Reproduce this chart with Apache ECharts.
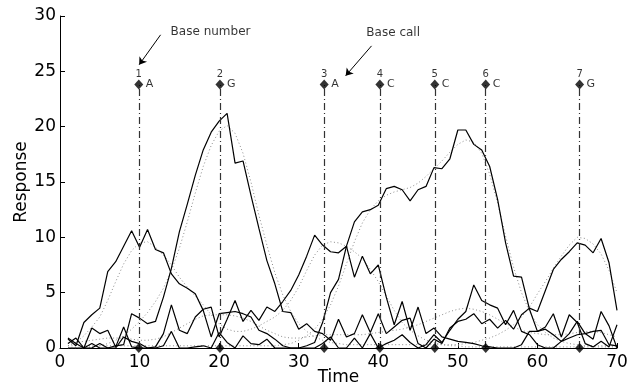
<!DOCTYPE html>
<html><head><meta charset="utf-8">
<script src="https://cdn.jsdelivr.net/npm/echarts@6/dist/echarts.min.js"></script>
<style>html,body{margin:0;padding:0;background:#fff}#c{width:629px;height:386px}</style>
</head><body><div id="c"></div><script>
const times = [1,2,3,4,5,6,7,8,9,10,11,12,13,14,15,16,17,18,19,20,21,22,23,24,25,26,27,28,29,30,31,32,33,34,35,36,37,38,39,40,41,42,43,44,45,46,47,48,49,50,51,52,53,54,55,56,57,58,59,60,61,62,63,64,65,66,67,68,69,70];
const traceA = [0.8,0.2,2.3,3.0,3.6,6.9,7.8,9.2,10.6,9.1, 10.7,8.9,8.6,6.7,5.8,5.4,4.9,3.4,1.0,3.1, 3.2,3.3,3.1,2.8,1.6,1.3,0.8,0.2,0,0, 0,0,0.4,1.0,0,0,0.9,0,1.3,0, 0.4,0.7,1.2,0.5,0,0.3,1.2,0.5,1.6,2.6, 3.3,5.7,4.3,3.9,3.6,2.1,3.4,1.5,1.2,0.3, 0,0,0.6,1.3,2.4,1.3,0.8,3.3,2.0,0];
const traceT = [0.9,0.4,0,1.8,1.3,1.6,0.1,1.9,0.1,0, 0,0.1,1.3,3.9,1.6,1.3,2.8,3.5,3.7,1.0, 2.6,4.3,2.4,3.4,2.5,3.7,3.3,4.2,5.2,6.6, 8.3,10.2,9.3,8.7,8.6,9.2,6.4,8.3,6.7,7.5, 4.6,2.1,4.2,1.6,3.7,1.3,1.8,1.0,0.8,0.6, 0.5,0.4,0.2,0.1,0,0,0,0.3,1.5,1.5, 1.7,1.2,0.6,0.9,1.2,1.3,1.5,1.6,0.3,0.2];
const traceG = [0,0,0,0.4,0,0,0.2,0.3,3.1,2.7, 2.2,2.4,4.6,7.2,10.5,13.0,15.6,17.9,19.5,20.5, 21.2,16.7,16.9,13.8,10.8,7.9,5.8,3.3,3.2,1.7, 2.2,1.5,1.3,0.7,2.6,1.0,1.3,3.0,1.4,3.1, 1.3,1.9,2.5,2.7,0.4,0,0.8,0.4,1.8,2.4, 2.6,3.1,2.2,2.6,1.8,2.5,1.7,3.0,3.6,3.3, 5.2,7.1,8.0,8.7,9.5,9.3,8.6,9.9,7.7,3.4];
const traceC = [0.4,0.9,0,0,0.4,0,0,1.0,0.6,0.4, 0,0,0.2,1.5,0,0,0.1,0.2,0,1.4, 0.5,0,1.1,0.4,0.3,0.8,0,0,0,0, 0.2,0.5,2.3,5.0,6.2,9.2,11.4,12.3,12.5,12.9, 14.4,14.6,14.3,13.3,14.3,14.6,16.3,16.2,17.1,19.7, 19.7,18.4,17.9,16.4,13.4,9.5,6.5,6.4,3.5,1.5, 1.9,3.1,1.0,3.0,2.3,0.4,0.1,0.6,0.1,2.1];
const fitA = [0.2,0.5,1.1,1.9,2.8,4.3,6.0,7.6,8.8,9.5, 9.6,9.1,8.4,7.5,6.4,5.5,4.7,3.9,3.0,2.2, 1.7,1.5,1.5,1.7,2.0,2.4,2.8,3.4,4.3,5.5, 7.0,8.4,9.3,9.6,9.5,9.2,8.7,8.1,7.1,6.0, 4.7,3.4,2.3,1.6,1.1,0.7,0.5,0.3,0.2,0.2, 0.1,0.1,0.1,0.1,0.1,0.1,0.1,0.1,0.1,0.1, 0.1,0.1,0.1,0.1,0.1,0.1,0.1,0.1,0.1,0.1];
const fitG = [0,0,0,0.1,0.2,0.4,0.7,1.1,1.7,2.4, 3.2,4.2,5.4,7.0,9.0,11.4,14.0,16.4,18.3,19.6, 20.1,19.4,17.6,15.0,12.0,9.3,6.8,4.8,3.3,2.2, 1.5,1.0,0.7,0.5,0.4,0.3,0.3,0.3,0.3,0.3, 0.3,0.3,0.3,0.3,0.3,0.3,0.3,0.3,0.3,0.3, 0.4,0.5,0.7,0.9,1.2,1.6,2.1,2.8,3.7,4.9, 6.0,7.2,8.3,9.3,10.0,9.9,9.4,8.5,7.0,5.0];
const fitC = [0.2,0.2,0.2,0.2,0.2,0.2,0.2,0.2,0.2,0.2, 0.2,0.2,0.2,0.2,0.2,0.2,0.2,0.2,0.2,0.2, 0.2,0.2,0.2,0.2,0.2,0.2,0.2,0.3,0.4,0.7, 1.1,1.7,2.6,3.9,5.6,7.6,9.6,11.3,12.5,13.3, 13.8,14.1,14.3,14.5,14.9,15.5,16.2,16.9,17.7,18.4, 18.8,18.6,17.6,15.7,13.1,10.1,7.3,5.0,3.3,2.1, 1.4,0.9,0.6,0.4,0.3,0.2,0.2,0.2,0.2,0.2];
const fitT = [0.4,0.5,0.6,0.7,0.8,0.9,0.9,0.9,0.8,0.7, 0.7,0.8,1.0,1.4,1.8,2.2,2.6,2.9,3.0,3.0, 3.0,2.9,2.7,2.4,2.0,1.6,1.3,1.0,0.9,0.9, 1.0,1.1,1.2,1.2,1.2,1.2,1.2,1.2,1.3,1.4, 1.5,1.6,1.7,1.9,2.1,2.4,2.7,3.0,3.3,3.5, 3.6,3.5,3.3,3.0,2.6,2.2,1.9,1.6,1.4,1.3, 1.2,1.2,1.2,1.3,1.4,1.5,1.5,1.4,1.2,1.0];
const basePositions = [9.9, 20.1, 33.2, 40.2, 47.1, 53.5, 65.3];
const baseNumbers = ['1','2','3','4','5','6','7'];
const baseLetters = ['A','G','A','C','C','C','G'];
const baseMarkerLevel = 23.8;
const xTicks = [0,10,20,30,40,50,60,70];
const yTicks = [0,5,10,15,20,25,30];
const annotationTexts = ['Base number', 'Base call'];
const annotationAnchors = [[13.9, 28.55], [38.5, 28.45]];
const arrowLines = [[[12.64, 28.3], [9.95, 25.6]], [[39.15, 27.3], [35.9, 24.6]]];

const FONT = 'DejaVu Sans';
const chart = echarts.init(document.getElementById('c'), null, {renderer: 'canvas'});
const pairs = arr => times.map((t, i) => [t, arr[i]]);
const solid = (name, arr) => ({
  name, type: 'line', data: pairs(arr), showSymbol: false, symbol: 'none', z: 4,
  lineStyle: {color: '#000', width: 1.2}, silent: true, animation: false
});
const dotted = (name, arr) => ({
  name, type: 'line', data: pairs(arr), showSymbol: false, symbol: 'none', z: 3,
  lineStyle: {color: '#8a8a8a', width: 1, type: [1, 2.5]}, silent: true, animation: false
});
const axisCommon = {
  axisLine: {show: true, lineStyle: {color: '#000', width: 1}},
  axisTick: {show: true, inside: true, length: 5, lineStyle: {color: '#000', width: 1}},
  splitLine: {show: false},
  axisLabel: {color: '#000', fontSize: 17, fontFamily: FONT},
  nameTextStyle: {color: '#000', fontSize: 17, fontFamily: FONT},
  nameMoveOverlap: false
};
chart.setOption({
  animation: false,
  backgroundColor: '#fff',
  grid: {left: 60, right: 12, top: 16, bottom: 38, containLabel: false, outerBoundsMode: 'none'},
  xAxis: Object.assign({}, axisCommon, {
    type: 'value', min: xTicks[0], max: xTicks[xTicks.length - 1], interval: 10,
    name: 'Time', nameLocation: 'middle', nameGap: 21,
    axisLabel: Object.assign({}, axisCommon.axisLabel, {margin: 6})
  }),
  yAxis: Object.assign({}, axisCommon, {
    type: 'value', min: yTicks[0], max: yTicks[yTicks.length - 1], interval: 5,
    name: 'Response', nameLocation: 'middle', nameGap: 30,
    axisLabel: Object.assign({}, axisCommon.axisLabel, {margin: 4})
  }),
  series: [
    dotted('fitT', fitT), dotted('fitA', fitA), dotted('fitG', fitG), dotted('fitC', fitC),
    solid('A', traceA), solid('T', traceT), solid('G', traceG), solid('C', traceC),
    {
      name: 'baseTop', type: 'scatter', z: 6, clip: false, silent: true, animation: false,
      data: basePositions.map(p => [p, baseMarkerLevel]),
      symbol: 'diamond', symbolSize: [9, 10], itemStyle: {color: '#000'},
      label: {show: true, position: 'top', distance: 0, color: '#000', fontSize: 10, fontFamily: FONT,
        formatter: p => baseNumbers[p.dataIndex]},
      markLine: {
        silent: true, symbol: 'none', animation: false,
        label: {show: false},
        lineStyle: {color: '#333', width: 1.2, type: [7, 3, 1, 3]},
        data: basePositions.map(p => [{coord: [p, 0]}, {coord: [p, baseMarkerLevel]}])
      }
    },
    {
      name: 'baseLetter', type: 'scatter', z: 6, clip: false, silent: true, animation: false,
      data: basePositions.map(p => [p, baseMarkerLevel]),
      symbolSize: 0, itemStyle: {color: 'rgba(0,0,0,0)'},
      label: {show: true, position: 'right', distance: 7, color: '#000', fontSize: 11, fontFamily: FONT,
        formatter: p => baseLetters[p.dataIndex]}
    },
    {
      name: 'baseBottom', type: 'scatter', z: 6, clip: false, silent: true, animation: false,
      data: basePositions.map(p => [p, 0]),
      symbol: 'diamond', symbolSize: [9, 10], itemStyle: {color: '#000'}
    },
    {
      name: 'annotations', type: 'scatter', z: 6, clip: false, silent: true, animation: false,
      data: annotationAnchors,
      symbolSize: 0, itemStyle: {color: 'rgba(0,0,0,0)'},
      label: {show: true, position: 'right', distance: 0, color: '#000', fontSize: 12, fontFamily: FONT,
        formatter: p => annotationTexts[p.dataIndex]},
      markLine: {
        silent: true, animation: false, symbol: ['none', 'arrow'], symbolSize: 7,
        label: {show: false},
        lineStyle: {color: '#000', width: 1, type: 'solid'},
        data: arrowLines.map(l => [{coord: l[0]}, {coord: l[1]}])
      }
    }
  ]
});
</script></body></html>
